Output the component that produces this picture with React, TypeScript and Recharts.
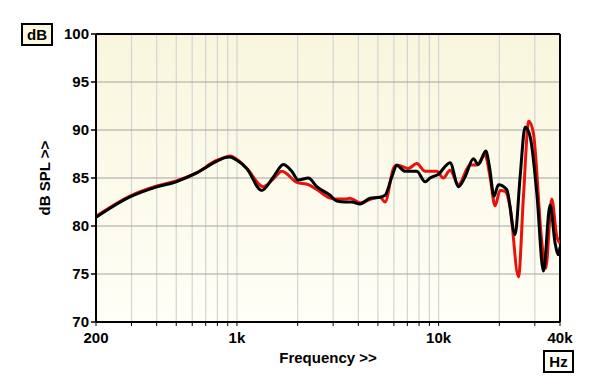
import { CartesianGrid, Line, LineChart, ReferenceLine, XAxis, YAxis } from "recharts";

// frequency response readings, Hz / dB SPL
const blackFreq = [
  200, 293, 397, 499, 627, 787, 883, 924, 990, 1118, 1327, 1516, 1698, 1870, 2016, 2260, 2488,
  2896, 3126, 3437, 3710, 4080, 4572, 5126, 5428, 5862, 6203, 6822, 7794, 8570, 9074, 9978,
  11400, 12540, 13520, 14880, 15740, 17140, 17860, 18840, 19790, 21780, 23940, 25360, 26860,
  28440, 30700, 33100, 35720, 37840, 39280, 40000
];
const blackDb = [
  80.9, 83.0, 84.05, 84.6, 85.5, 86.7, 87.15, 87.2, 86.9, 86.0, 83.7, 85.1, 86.4, 85.7, 84.8,
  85.0, 84.1, 83.2, 82.6, 82.5, 82.5, 82.3, 82.9, 83.0, 83.2, 85.1, 86.3, 85.7, 85.7, 84.6, 85.0,
  85.4, 86.6, 84.1, 85.1, 87.0, 86.4, 87.8, 86.2, 83.1, 84.3, 83.8, 79.1, 85.1, 90.3, 89.3, 83.4,
  75.3, 82.2, 78.2, 77.0, 77.8
];

const redFreq = [
  200, 293, 397, 499, 627, 787, 883, 924, 990, 1118, 1352, 1516, 1668, 1980, 2260, 2488, 2896,
  3126, 3437, 3640, 4080, 4748, 5126, 5428, 5970, 6203, 7080, 7794, 8570, 9780, 10550, 11400,
  12540, 14320, 15460, 17000, 18000, 19060, 20180, 21370, 22600, 24900, 26340, 28000, 29500,
  32500, 34000, 36400, 38560, 40000
];
const redDb = [
  81.0, 83.1, 84.15, 84.7, 85.5, 86.8, 87.2, 87.3, 87.0, 86.0, 84.1, 84.9, 85.7, 84.55, 84.3,
  83.8, 82.9, 82.8, 82.8, 82.9, 82.4, 82.9, 83.0, 82.5, 86.0, 86.35, 86.0, 86.5, 85.7, 85.7, 85.0,
  85.8, 84.3, 86.35, 86.35, 87.4, 85.1, 82.1, 83.7, 83.6, 82.0, 74.7, 83.0, 90.9, 89.7, 78.3,
  75.6, 82.8, 78.9, 78.2
];

const xTicks = [
  200, 300, 400, 500, 600, 700, 800, 900, 1000, 2000, 3000, 4000, 5000, 6000, 7000, 8000, 9000,
  10000, 20000, 30000, 40000
];
const xLabels: Record<number, string> = { 200: "200", 1000: "1k", 10000: "10k", 40000: "40k" };
const yTicks = [70, 75, 80, 85, 90, 95, 100];

const blackData = blackFreq.map((f, i) => ({ f, db: blackDb[i] }));
const redData = redFreq.map((f, i) => ({ f, db: redDb[i] }));

const font = "'Liberation Sans', Arial, sans-serif";
const tickStyle = { fontSize: 15, fontWeight: 700, fill: "#000", fontFamily: font };

export default function App() {
  return (
    <div style={{ position: "absolute", left: 0, top: 0, width: 600, height: 389, background: "#fff", fontFamily: font }}>
      <LineChart width={600} height={389} margin={{ top: 34, right: 40, bottom: 37, left: 46 }}>
        <defs>
          <linearGradient id="bgGrad" x1="0" y1="0" x2="0" y2="1">
            <stop offset="0%" stopColor="#f9f6dd" />
            <stop offset="100%" stopColor="#fffef7" />
          </linearGradient>
        </defs>
        <CartesianGrid fill="url(#bgGrad)" horizontal={false} stroke="#d4d4d4" strokeWidth={1.2} />
        <CartesianGrid vertical={false} stroke="#a3a3a3" strokeWidth={1} />
        <XAxis
          dataKey="f"
          type="number"
          scale="log"
          domain={[200, 40000]}
          ticks={xTicks}
          tickFormatter={(v: number) => xLabels[v] ?? ""}
          allowDataOverflow
          height={30}
          tickSize={4}
          tickMargin={6}
          interval={0}
          stroke="#000"
          axisLine={{ stroke: "#000", strokeWidth: 2 }}
          tickLine={{ stroke: "#000", strokeWidth: 1 }}
          tick={tickStyle}
        />
        <YAxis
          dataKey="db"
          type="number"
          domain={[70, 100]}
          ticks={yTicks}
          allowDataOverflow
          width={50}
          tickSize={5}
          tickMargin={2}
          interval={0}
          axisLine={{ stroke: "#000", strokeWidth: 2 }}
          tickLine={{ stroke: "#000", strokeWidth: 1.5 }}
          tick={tickStyle}
        />
        <ReferenceLine y={100} stroke="#000" strokeWidth={2} />
        <ReferenceLine x={40000} stroke="#000" strokeWidth={2} />
        <Line
          data={redData}
          dataKey="db"
          type="monotone"
          stroke="#e8120c"
          strokeWidth={3}
          dot={false}
          isAnimationActive={false}
        />
        <Line
          data={blackData}
          dataKey="db"
          type="monotone"
          stroke="#000"
          strokeWidth={3}
          dot={false}
          isAnimationActive={false}
        />
      </LineChart>
      <div
        style={{
          position: "absolute", left: 21, top: 23, width: 28, height: 19, border: "2px solid #000",
          background: "#fbf8df", fontSize: 15, fontWeight: 700, lineHeight: "19px", textAlign: "center"
        }}
      >
        dB
      </div>
      <div
        style={{
          position: "absolute", left: 543, top: 350, width: 27, height: 19, border: "2px solid #000",
          background: "#fffffa", fontSize: 15, fontWeight: 700, lineHeight: "19px", textAlign: "center"
        }}
      >
        Hz
      </div>
      <div
        style={{
          position: "absolute", left: 228, top: 349, width: 200, textAlign: "center",
          fontSize: 15, fontWeight: 700, lineHeight: "18px"
        }}
      >
        Frequency &gt;&gt;
      </div>
      <div
        style={{
          position: "absolute", left: 45, top: 178, width: 140, marginLeft: -70, marginTop: -9,
          textAlign: "center", fontSize: 15, fontWeight: 700, lineHeight: "18px",
          transform: "rotate(-90deg)"
        }}
      >
        dB SPL &gt;&gt;
      </div>
    </div>
  );
}
